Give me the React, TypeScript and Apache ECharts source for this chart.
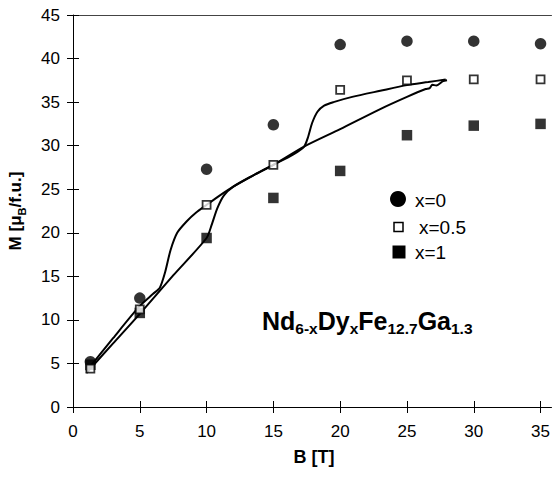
import React, { useEffect, useRef } from "react";
import * as echarts from "echarts";

// Measured magnetisation at the discrete field values
const fieldB = [1.3, 5, 10, 15, 20, 25, 30, 35];
const magX0 = [5.2, 12.5, 27.3, 32.4, 41.6, 42.0, 42.0, 41.7];
const magX05 = [4.4, 11.2, 23.2, 27.8, 36.4, 37.5, 37.6, 37.6];
const magX1 = [4.85, 10.8, 19.4, 24.0, 27.1, 31.2, 32.3, 32.5];

// Continuous pulsed-field curves (two branches)
const curveAB = [1.0, 3.0, 5.0, 6.0, 6.5, 6.9, 7.3, 7.8, 8.5, 9.2, 10.0, 11.0, 12.0, 13.5, 15.0, 16.5, 17.3, 17.6, 17.9, 18.3, 18.8, 19.5, 20.9, 23.0, 25.0, 26.6, 27.9];
const curveAM = [4.1, 7.9, 11.6, 13.0, 13.7, 15.5, 18.0, 20.0, 21.3, 22.3, 23.2, 24.3, 25.3, 26.6, 27.8, 29.0, 29.9, 31.0, 32.6, 33.9, 34.6, 35.0, 35.6, 36.3, 36.95, 37.3, 37.6];
const curveBB = [1.0, 3.0, 5.0, 7.5, 10.0, 10.4, 10.8, 11.3, 12.0, 13.5, 15.0, 17.3, 20.0, 23.0, 25.0, 26.4, 26.7, 26.9, 27.2, 27.7, 28.0];
const curveBM = [3.9, 7.3, 10.7, 15.1, 19.4, 21.0, 22.8, 24.3, 25.3, 26.6, 27.8, 29.9, 31.9, 34.2, 35.6, 36.5, 36.6, 37.0, 36.9, 37.4, 37.5];

const xTicks = [0, 5, 10, 15, 20, 25, 30, 35];
const legendLabels = ["x=0", "x=0.5", "x=1"];

const FONT = "'Liberation Sans', Arial, sans-serif";

export default function App() {
  const ref = useRef<HTMLDivElement>(null);
  useEffect(() => {
    if (!ref.current) return;
    const chart = echarts.init(ref.current, null, { renderer: "svg" });
    const pairs = (xs: number[], ys: number[]) => xs.map((x, i) => [x, ys[i]]);
    const option: any = {
      animation: false,
      backgroundColor: "#ffffff",
      grid: { left: 73, top: 15, right: 0, bottom: 71 },
      xAxis: [
        {
          type: "value",
          min: 0,
          max: 35.82,
          position: "bottom",
          axisLine: { show: true, lineStyle: { color: "#000", width: 1 } },
          axisTick: { show: true, inside: false, length: 6, customValues: xTicks, lineStyle: { color: "#000" } },
          axisLabel: { show: true, customValues: xTicks, margin: 16, fontSize: 17, color: "#000", fontFamily: FONT },
          splitLine: { show: false },
        },
        {
          type: "value",
          min: 0,
          max: 35.82,
          position: "bottom",
          axisLine: { show: false },
          axisTick: { show: true, inside: true, length: 6, customValues: xTicks, lineStyle: { color: "#000" } },
          axisLabel: { show: false },
          splitLine: { show: false },
        },
        {
          type: "value",
          min: 0,
          max: 35.82,
          position: "top",
          axisLine: { show: true, lineStyle: { color: "#444", width: 1 } },
          axisTick: { show: false },
          axisLabel: { show: false },
          splitLine: { show: false },
        },
      ],
      yAxis: [
        {
          type: "value",
          min: 0,
          max: 45,
          interval: 5,
          position: "left",
          axisLine: { show: true, lineStyle: { color: "#000", width: 1 } },
          axisTick: { show: true, inside: false, length: 6, lineStyle: { color: "#000" } },
          axisLabel: { show: true, margin: 13, fontSize: 17, color: "#000", fontFamily: FONT },
          splitLine: { show: false },
        },
        {
          type: "value",
          min: 0,
          max: 45,
          interval: 5,
          position: "left",
          axisLine: { show: false },
          axisTick: { show: true, inside: true, length: 6, lineStyle: { color: "#000" } },
          axisLabel: { show: false },
          splitLine: { show: false },
        },
      ],
      series: [
        {
          type: "line",
          data: pairs(curveAB, curveAM),
          smooth: 0.25,
          showSymbol: false,
          lineStyle: { color: "#000", width: 2 },
          z: 1,
        },
        {
          type: "line",
          data: pairs(curveBB, curveBM),
          smooth: 0.25,
          showSymbol: false,
          lineStyle: { color: "#000", width: 2 },
          z: 1,
        },
        {
          type: "scatter",
          data: pairs(fieldB, magX0),
          symbol: "circle",
          symbolSize: 11.5,
          itemStyle: { color: "#000" },
          z: 3,
        },
        {
          type: "scatter",
          data: pairs(fieldB, magX1),
          symbol: "rect",
          symbolSize: 10.5,
          itemStyle: { color: "#000" },
          z: 3,
        },
        {
          type: "scatter",
          data: pairs(fieldB, magX05),
          symbol: "rect",
          symbolSize: 8,
          itemStyle: { color: "#fff", borderColor: "#000", borderWidth: 1.8 },
          z: 4,
        },
      ],
      graphic: [
        // legend
        { type: "circle", shape: { cx: 398, cy: 199, r: 8 }, style: { fill: "#000" } },
        { type: "rect", shape: { x: 394, y: 222.5, width: 9, height: 9 }, style: { fill: "#fff", stroke: "#000", lineWidth: 1.5 } },
        { type: "rect", shape: { x: 392.5, y: 245.5, width: 13, height: 13 }, style: { fill: "#000" } },
        { type: "text", x: 415, y: 200, style: { text: legendLabels[0], font: `19px ${FONT}`, fill: "#000", verticalAlign: "middle" } },
        { type: "text", x: 419, y: 227, style: { text: legendLabels[1], font: `19px ${FONT}`, fill: "#000", verticalAlign: "middle" } },
        { type: "text", x: 415, y: 252, style: { text: legendLabels[2], font: `19px ${FONT}`, fill: "#000", verticalAlign: "middle" } },
        // compound formula
        {
          type: "text",
          x: 262,
          y: 308,
          style: {
            text: "{m|Nd}{s|6-x}{m|Dy}{s|x}{m|Fe}{s|12.7}{m|Ga}{s|1.3}",
            fill: "#000",
            rich: {
              m: { fontFamily: FONT, fontWeight: "bold", fontSize: 25, lineHeight: 27, verticalAlign: "top", fill: "#000" },
              s: { fontFamily: FONT, fontWeight: "bold", fontSize: 15.5, lineHeight: 15.5, padding: [12, 0, 0, 0], verticalAlign: "top", fill: "#000" },
            },
          },
        },
        // x-axis title
        {
          type: "text",
          x: 314,
          y: 457,
          style: { text: "B [T]", font: `bold 18px ${FONT}`, fill: "#000", align: "center", verticalAlign: "middle" },
        },
        // y-axis title
        {
          type: "text",
          x: 16,
          y: 211,
          rotation: Math.PI / 2,
          style: {
            text: "{m|M [μ}{s|B}{m|/f.u.]}",
            align: "center",
            verticalAlign: "middle",
            fill: "#000",
            rich: {
              m: { fontFamily: FONT, fontWeight: "bold", fontSize: 17, lineHeight: 19, verticalAlign: "top", fill: "#000" },
              s: { fontFamily: FONT, fontWeight: "bold", fontSize: 11, lineHeight: 11, padding: [10, 0, 0, 0], verticalAlign: "top", fill: "#000" },
            },
          },
        },
      ],
    };
    chart.setOption(option);
    return () => chart.dispose();
  }, []);
  return (
    <div
      ref={ref}
      style={{ position: "absolute", left: 0, top: 0, width: 553, height: 478, background: "#fff" }}
    />
  );
}
